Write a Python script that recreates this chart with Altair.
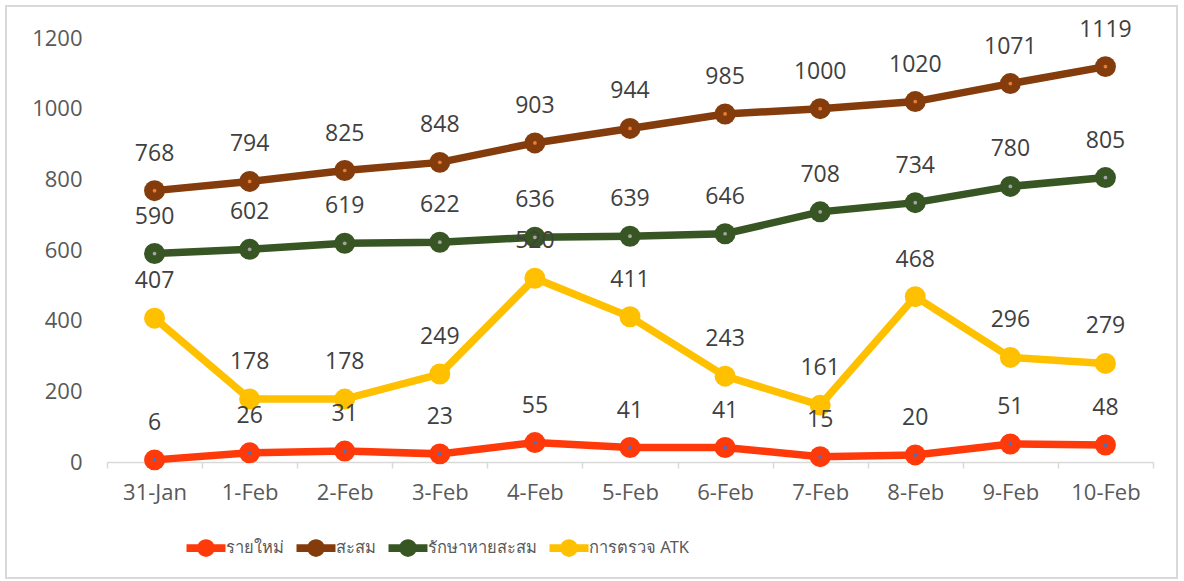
import altair as alt
import pandas as pd

dates = ["31-Jan", "1-Feb", "2-Feb", "3-Feb", "4-Feb", "5-Feb", "6-Feb", "7-Feb", "8-Feb", "9-Feb", "10-Feb"]
new_cases = [6, 26, 31, 23, 55, 41, 41, 15, 20, 51, 48]
cumulative = [768, 794, 825, 848, 903, 944, 985, 1000, 1020, 1071, 1119]
recovered = [590, 602, 619, 622, 636, 639, 646, 708, 734, 780, 805]
atk = [407, 178, 178, 249, 520, 411, 243, 161, 468, 296, 279]

series_names = ["รายใหม่", "สะสม", "รักษาหายสะสม", "การตรวจ ATK"]
series_values = [new_cases, cumulative, recovered, atk]
series_colors = ["#FF3A0A", "#843C0C", "#375623", "#FFC000"]
center_colors = ["#4472C4", "#ED7D31", "#A5A5A5", "#FFC000"]

rows = []
for name, vals, cc in zip(series_names, series_values, center_colors):
    for d, v in zip(dates, vals):
        rows.append({"date": d, "value": v, "series": name, "center": cc})
df = pd.DataFrame(rows)

FONT = "Open Sans"
x = alt.X("date:N", sort=dates, title=None,
          scale=alt.Scale(paddingInner=0, paddingOuter=0, align=0.5),
          axis=alt.Axis(labelFontSize=22, labelColor="#595959", labelFont=FONT,
                        domainColor="#D9D9D9", domainWidth=1.5, tickColor="#D9D9D9",
                        tickSize=6, tickWidth=1.5, tickBand="extent", labelPadding=14,
                        labelAngle=0, grid=False))
y = alt.Y("value:Q", title=None,
          scale=alt.Scale(domain=[0, 1200]),
          axis=alt.Axis(values=[0, 200, 400, 600, 800, 1000, 1200], format="d",
                        labelFontSize=22, labelColor="#595959", labelFont=FONT,
                        domain=False, ticks=False, grid=False, labelPadding=25))
color_scale = alt.Scale(domain=series_names, range=series_colors)

legend_path = ("M -2 -0.4 L 2 -0.4 L 2 0.4 L -2 0.4 Z "
               "M 0.9 0 A 0.9 0.9 0 1 1 -0.9 0 A 0.9 0.9 0 1 1 0.9 0 Z")
legend = alt.Legend(title=None, orient="none", direction="horizontal",
                    legendX=89, legendY=500, symbolType=legend_path,
                    symbolSize=380, symbolStrokeWidth=0, symbolOpacity=1,
                    labelFontSize=16.5, labelColor="#595959",
                    labelFont="Noto Sans", labelOffset=10, columnPadding=12)
color = alt.Color("series:N", scale=color_scale, legend=legend)

base = alt.Chart(df)

lines = base.mark_line(strokeWidth=7.5).encode(x=x, y=y, color=color)

points = base.mark_point(filled=True, size=440, opacity=1).encode(x=x, y=y, color=color)

centers = base.mark_circle(size=14, opacity=1).encode(
    x=x, y=y, fill=alt.Fill("center:N", scale=None)
)

labels = base.mark_text(dy=-37, fontSize=23, color="#404040", font=FONT).encode(
    x=x, y=y, text="value:Q"
)

frame = alt.Chart(pd.DataFrame({"a": [0]})).mark_rect(
    fill=None, stroke="#D9D9D9", strokeWidth=2
).encode(x=alt.value(-101), x2=alt.value(1070), y=alt.value(-32), y2=alt.value(540))

chart = alt.layer(frame, lines, points, centers, labels).properties(
    width=1046, height=424,
    padding={"left": 107, "top": 38, "right": 31, "bottom": 119},
    autosize=alt.AutoSizeParams(type="none"),
    background="white",
).configure_view(stroke=None)

chart.save("out.html", embed_options={"renderer": "svg", "actions": False})
